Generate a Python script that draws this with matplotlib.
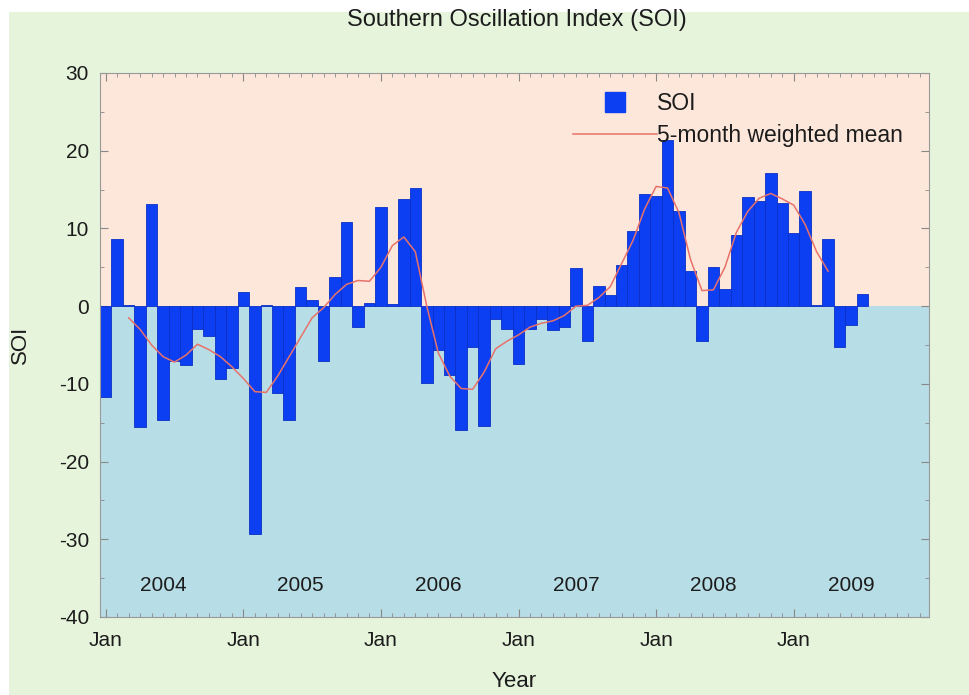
import matplotlib
matplotlib.use("Agg")
import matplotlib.pyplot as plt
from matplotlib.ticker import MultipleLocator, FixedLocator
from matplotlib.patches import Rectangle
from matplotlib.lines import Line2D

# ---- data (monthly SOI, Jan 2004 .. Jul 2009) ----
soi = [
    -11.7, 8.6, 0.2, -15.5, 13.1, -14.7, -7.0, -7.6, -3.0, -3.9, -9.4, -8.0,   # 2004
    1.8, -29.3, 0.2, -11.2, -14.7, 2.5, 0.85, -7.0, 3.8, 10.85, -2.7, 0.4,     # 2005
    12.8, 0.3, 13.85, 15.2, -9.9, -5.7, -8.9, -16.0, -5.2, -15.4, -1.6, -3.0,  # 2006
    -7.4, -3.0, -1.6, -3.1, -2.7, 4.9, -4.5, 2.6, 1.4, 5.3, 9.7, 14.4,         # 2007
    14.2, 21.4, 12.3, 4.5, -4.5, 5.0, 2.2, 9.1, 14.1, 13.55, 17.1, 13.3,       # 2008
    9.4, 14.8, 0.2, 8.6, -5.2, -2.45, 1.5,                                     # 2009
]
# 5-month weighted mean (Mar 2004 .. Apr 2009)
wmean_start = 2
wmean = [
    -1.5, -3.0, -5.0, -6.5, -7.2, -6.3, -4.9, -5.6, -6.5, -7.8,
    -9.3, -11.0, -11.1, -9.0, -6.5, -4.0, -1.5, -0.2, 1.5, 2.8,
    3.3, 3.2, 5.0, 7.8, 8.9, 7.0, 0.0, -6.0, -9.0, -10.6,
    -10.7, -8.5, -5.5, -4.5, -3.7, -2.7, -2.2, -1.9, -1.2, 0.0,
    0.1, 1.1, 2.5, 5.5, 8.5, 12.5, 15.4, 15.2, 12.0, 6.0,
    2.0, 2.1, 5.0, 9.5, 12.2, 13.9, 14.5, 13.8, 13.0, 10.5,
    7.0, 4.5,
]
year_labels = ["2004", "2005", "2006", "2007", "2008", "2009"]
jan_label = "Jan"

plt.rcParams['font.family'] = ['Liberation Sans', 'DejaVu Sans']
plt.rcParams['axes.unicode_minus'] = False

TXT = '#1c1c1c'
BAR = '#0d3ff2'
LINE = '#e8726a'

fig = plt.figure(figsize=(9.69, 6.95), dpi=100)
fig.patch.set_facecolor('#e6f4dc')
# white strips at top and left (cropped page)
fig.patches.append(Rectangle((0, 1 - 12/695), 1, 12/695, transform=fig.transFigure,
                             facecolor='white', edgecolor='none', zorder=0))
fig.patches.append(Rectangle((0, 0), 9/969, 1, transform=fig.transFigure,
                             facecolor='white', edgecolor='none', zorder=0))

ax = fig.add_axes([100/969, 1 - 617/695, 829/969, 544/695])
ax.set_xlim(-0.5, 71.8)
ax.set_ylim(-40, 30)
ax.axhspan(0, 30, facecolor='#fde7da', edgecolor='none', zorder=0)
ax.axhspan(-40, 0, facecolor='#b7dde6', edgecolor='none', zorder=0)

x = list(range(len(soi)))
ax.bar(x, soi, width=1.0, color=BAR, edgecolor='#0a2fc4', linewidth=0.6, zorder=2)
xm = [wmean_start + i for i in range(len(wmean))]
ax.plot(xm, wmean, color=LINE, linewidth=1.1, zorder=3)

# ticks
ax.xaxis.set_major_locator(FixedLocator([12 * k for k in range(6)]))
ax.xaxis.set_minor_locator(MultipleLocator(1))
ax.set_xticklabels([jan_label] * 6)
ax.yaxis.set_major_locator(MultipleLocator(10))
ax.yaxis.set_minor_locator(MultipleLocator(5))
ax.tick_params(which='both', direction='in', top=True, right=True, colors='#888888',
               labelcolor=TXT, labelsize=15)
ax.tick_params(which='major', length=6, width=0.8)
ax.tick_params(which='minor', length=3, width=0.6)
ax.tick_params(axis='x', pad=10)
ax.tick_params(axis='y', pad=8)
for s in ax.spines.values():
    s.set_color('#999999')
    s.set_linewidth(0.8)

for k, lab in enumerate(year_labels):
    ax.text(5 + 12 * k, -36, lab, ha='center', va='center', fontsize=15,
            color=TXT, zorder=4)

ax.set_xlabel('Year', fontsize=16, color=TXT, labelpad=15)
ax.set_ylabel('SOI', fontsize=16, color=TXT, labelpad=20)
fig.text(517/969, 1 - 20/695, 'Southern Oscillation Index (SOI)', ha='center',
         va='center', fontsize=17, color=TXT)

handles = [Line2D([], [], linestyle='none', marker='s', markersize=14.5,
                  markerfacecolor=BAR, markeredgecolor=BAR),
           Line2D([], [], color=LINE, linewidth=1.1)]
leg = ax.legend(handles, ['SOI', '5-month weighted mean'], loc='upper left',
                bbox_to_anchor=((573 - 100) / 829, 1 - (92 - 73) / 544),
                borderaxespad=0, borderpad=0, frameon=False, fontsize=16.5,
                handlelength=3.67, handletextpad=0.0, labelspacing=0.4)
for t in leg.get_texts():
    t.set_color(TXT)

fig.savefig('out.png', dpi=100, facecolor=fig.get_facecolor())
